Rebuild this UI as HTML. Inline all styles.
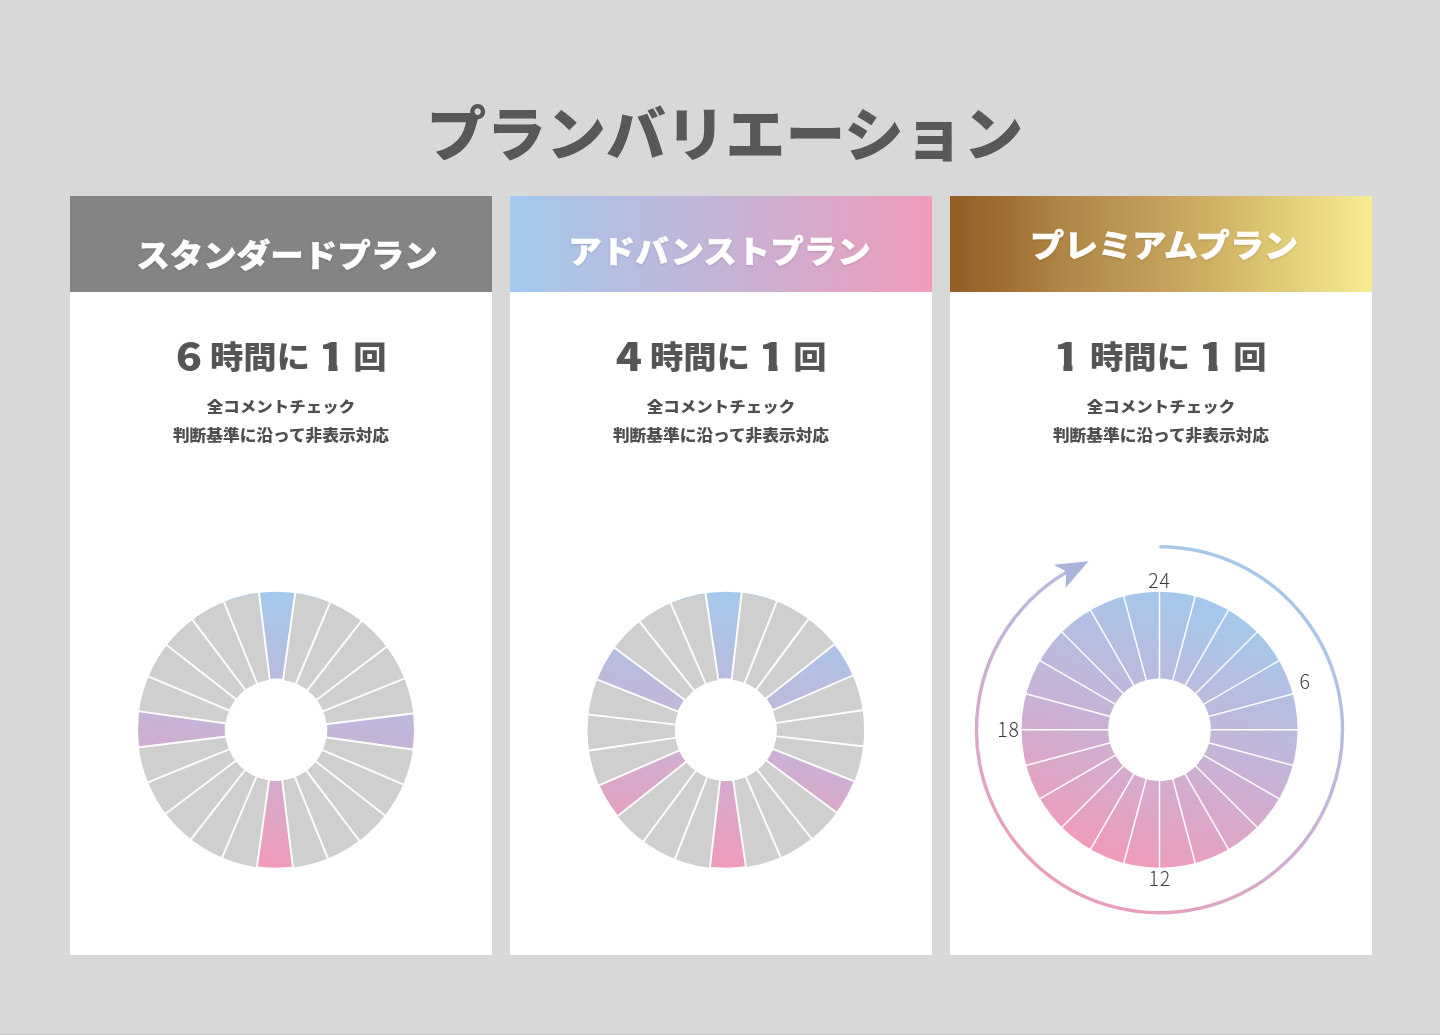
<!DOCTYPE html>
<html lang="ja">
<head>
<meta charset="utf-8">
<title>プランバリエーション</title>
<style>
html,body{margin:0;padding:0;}
body{width:1440px;height:1035px;background:#d8d8d8;position:relative;overflow:hidden;font-family:"Liberation Sans","Noto Sans CJK JP",sans-serif;color:#555;}
.title{position:absolute;left:5px;width:1440px;top:85.5px;text-align:center;font-size:59.8px;font-weight:900;color:#585858;line-height:88px;letter-spacing:0px;white-space:nowrap;font-family:"Noto Sans CJK JP",sans-serif;transform:scaleY(.985);}
.card{position:absolute;top:196px;width:422px;height:759px;background:#fff;}
.c1{left:70px}.c2{left:510px}.c3{left:950px}
.hd{position:absolute;left:0;top:0;width:422px;height:96px;}
.c1 .hd{background:#848484}
.c2 .hd{background:linear-gradient(90deg,#a3c9ec 0%,#c5b4d7 50%,#f09bbb 100%)}
.c3 .hd{background:linear-gradient(90deg,#945e26 0%,#9e6e32 12.5%,#ad8444 25%,#b8924f 37.5%,#c4a05a 50%,#d0b264 62.5%,#dcc672 75%,#ead982 87.5%,#f8ec92 100%)}
.hd span{position:absolute;left:0;width:422px;text-align:center;font-family:"Noto Sans CJK JP",sans-serif;font-weight:900;font-size:33.5px;line-height:40px;color:#fff;white-space:nowrap;text-shadow:0 1px 3px rgba(0,0,0,.16);transform:scaleY(.935);-webkit-text-stroke:.5px #fff;}
.c1 .hd span{top:37.6px;left:6px}
.c2 .hd span{top:33.7px;left:-1.5px}
.c3 .hd span{top:27.1px;left:3px;font-size:34.1px}
.freq{position:absolute;left:0;width:422px;top:138px;height:44px;font-family:"Liberation Sans","Noto Sans CJK JP",sans-serif;font-weight:900;font-size:33.3px;line-height:44px;color:#555;white-space:nowrap;}
.freq span{position:absolute;top:1.8px;display:block;text-align:center;transform:scaleY(.915);}
.freq .d{font-family:"Noto Sans CJK JP",sans-serif;font-weight:900;font-size:38.6px;width:40px;transform:scaleX(1.12);top:-2px}
.freq .d1{left:98.5px}
.freq .k{left:139px;width:102px}
.freq .d2{left:242.3px}
.freq .one{clip-path:polygon(0 0,40px 0,40px 31px,24.9px 31px,24.9px 44px,16.8px 44px,16.8px 31px,0 31px);}
.c3 .freq .d1{left:97px}
.freq .e{left:283px;width:34px}
.sub{position:absolute;left:0;width:422px;text-align:center;font-family:"Noto Sans CJK JP",sans-serif;font-weight:900;font-size:16.5px;line-height:24px;color:#4f4f4f;white-space:nowrap;transform:scaleY(.92);}
.s1{top:198px}.s2{top:227.3px;font-size:16.7px}
.charts{position:absolute;left:0;top:0;}
.num{font-family:"Noto Sans CJK JP","Liberation Sans",sans-serif;font-size:19.5px;fill:#3c3c3c;font-weight:300;letter-spacing:.8px;}
.foot{position:absolute;left:0;top:1034px;width:1440px;height:1px;background:#c2c2c2}
</style>
</head>
<body>
<div class="title">プランバリエーション</div>
<div class="card c1"><div class="hd"><span>スタンダードプラン</span></div>
<div class="freq"><span class="d d1">6</span><span class="k">時間に</span><span class="d d2 one">1</span><span class="e">回</span></div>
<div class="sub s1">全コメントチェック</div><div class="sub s2">判断基準に沿って非表示対応</div></div>
<div class="card c2"><div class="hd"><span>アドバンストプラン</span></div>
<div class="freq"><span class="d d1">4</span><span class="k">時間に</span><span class="d d2 one">1</span><span class="e">回</span></div>
<div class="sub s1">全コメントチェック</div><div class="sub s2">判断基準に沿って非表示対応</div></div>
<div class="card c3"><div class="hd"><span>プレミアムプラン</span></div>
<div class="freq"><span class="d d1 one">1</span><span class="k">時間に</span><span class="d d2 one">1</span><span class="e">回</span></div>
<div class="sub s1">全コメントチェック</div><div class="sub s2">判断基準に沿って非表示対応</div></div>
<svg class="charts" width="1440" height="1035" viewBox="0 0 1440 1035">
<defs>
<linearGradient id="g1" gradientUnits="userSpaceOnUse" x1="297.6" y1="593.4" x2="254.4" y2="866.0"><stop offset="0" stop-color="#a3c9ec"/><stop offset="0.5" stop-color="#c5b4d7"/><stop offset="1" stop-color="#f09bbb"/></linearGradient>
<linearGradient id="g2" gradientUnits="userSpaceOnUse" x1="747.4" y1="593.4" x2="704.2" y2="866.0"><stop offset="0" stop-color="#a3c9ec"/><stop offset="0.5" stop-color="#c5b4d7"/><stop offset="1" stop-color="#f09bbb"/></linearGradient>
<linearGradient id="g3" gradientUnits="userSpaceOnUse" x1="1206.7" y1="600.0" x2="1112.3" y2="859.4"><stop offset="0" stop-color="#a3c9ec"/><stop offset="0.5" stop-color="#c5b4d7"/><stop offset="1" stop-color="#f09bbb"/></linearGradient>
<linearGradient id="ga" gradientUnits="userSpaceOnUse" x1="1251.5" y1="569.7" x2="1067.5" y2="889.7"><stop offset="0" stop-color="#a5c8ea"/><stop offset="0.5" stop-color="#c6b2d4"/><stop offset="1" stop-color="#eb9ebc"/></linearGradient>
</defs>
<path d="M138 729.7A138 138 0 1 1 414 729.7A138 138 0 1 1 138 729.7ZM224.7 729.7A51.3 51.3 0 1 0 327.3 729.7A51.3 51.3 0 1 0 224.7 729.7Z" fill="url(#g1)" fill-rule="evenodd"/>
<g transform="translate(0 0.7) rotate(0.45 276 729.7)">
<path d="M294.04 592.68A138.2 138.2 0 0 1 413.02 711.66L326.56 723.04A51.0 51.0 0 0 0 282.66 679.14ZM413.02 747.74A138.2 138.2 0 0 1 294.04 866.72L282.66 780.26A51.0 51.0 0 0 0 326.56 736.36ZM257.96 866.72A138.2 138.2 0 0 1 138.98 747.74L225.44 736.36A51.0 51.0 0 0 0 269.34 780.26ZM138.98 711.66A138.2 138.2 0 0 1 257.96 592.68L269.34 679.14A51.0 51.0 0 0 0 225.44 723.04Z" fill="#cfcfcf"/>
<path d="M269.50 680.33L257.79 591.39M282.50 680.33L294.21 591.39M295.06 683.69L329.38 600.82M306.32 690.19L360.92 619.03M315.51 699.38L386.67 644.78M322.01 710.64L404.88 676.32M325.37 723.20L414.31 711.49M325.37 736.20L414.31 747.91M322.01 748.76L404.88 783.08M315.51 760.02L386.67 814.62M306.32 769.21L360.92 840.37M295.06 775.71L329.38 858.58M282.50 779.07L294.21 868.01M269.50 779.07L257.79 868.01M256.94 775.71L222.62 858.58M245.68 769.21L191.08 840.37M236.49 760.02L165.33 814.62M229.99 748.76L147.12 783.08M226.63 736.20L137.69 747.91M226.63 723.20L137.69 711.49M229.99 710.64L147.12 676.32M236.49 699.38L165.33 644.78M245.68 690.19L191.08 619.03M256.94 683.69L222.62 600.82" stroke="#fff" stroke-width="1.9" fill="none"/>
</g>
<path d="M587.8 729.7A138 138 0 1 1 863.8 729.7A138 138 0 1 1 587.8 729.7ZM674.5 729.7A51.3 51.3 0 1 0 777.0999999999999 729.7A51.3 51.3 0 1 0 674.5 729.7Z" fill="url(#g2)" fill-rule="evenodd"/>
<g transform="translate(0 0.7) rotate(-0.9 725.8 729.7)">
<path d="M743.84 592.68A138.2 138.2 0 0 1 835.44 645.57L766.26 698.65A51.0 51.0 0 0 0 732.46 679.14ZM853.48 676.81A138.2 138.2 0 0 1 853.48 782.59L772.92 749.22A51.0 51.0 0 0 0 772.92 710.18ZM835.44 813.83A138.2 138.2 0 0 1 743.84 866.72L732.46 780.26A51.0 51.0 0 0 0 766.26 760.75ZM707.76 866.72A138.2 138.2 0 0 1 616.16 813.83L685.34 760.75A51.0 51.0 0 0 0 719.14 780.26ZM598.12 782.59A138.2 138.2 0 0 1 598.12 676.81L678.68 710.18A51.0 51.0 0 0 0 678.68 749.22ZM616.16 645.57A138.2 138.2 0 0 1 707.76 592.68L719.14 679.14A51.0 51.0 0 0 0 685.34 698.65Z" fill="#cfcfcf"/>
<path d="M719.30 680.33L707.59 591.39M732.30 680.33L744.01 591.39M744.86 683.69L779.18 600.82M756.12 690.19L810.72 619.03M765.31 699.38L836.47 644.78M771.81 710.64L854.68 676.32M775.17 723.20L864.11 711.49M775.17 736.20L864.11 747.91M771.81 748.76L854.68 783.08M765.31 760.02L836.47 814.62M756.12 769.21L810.72 840.37M744.86 775.71L779.18 858.58M732.30 779.07L744.01 868.01M719.30 779.07L707.59 868.01M706.74 775.71L672.42 858.58M695.48 769.21L640.88 840.37M686.29 760.02L615.13 814.62M679.79 748.76L596.92 783.08M676.43 736.20L587.49 747.91M676.43 723.20L587.49 711.49M679.79 710.64L596.92 676.32M686.29 699.38L615.13 644.78M695.48 690.19L640.88 619.03M706.74 683.69L672.42 600.82" stroke="#fff" stroke-width="1.9" fill="none"/>
</g>
<path d="M1021.5 729.7A138 138 0 1 1 1297.5 729.7A138 138 0 1 1 1021.5 729.7ZM1108.2 729.7A51.3 51.3 0 1 0 1210.8 729.7A51.3 51.3 0 1 0 1108.2 729.7Z" fill="url(#g3)" fill-rule="evenodd"/>
<g transform="translate(0 0) rotate(0.0 1159.5 729.7)">
<path d="M1159.50 679.90L1159.50 590.20M1172.39 681.60L1195.61 594.95M1184.40 686.57L1229.25 608.89M1194.71 694.49L1258.14 631.06M1202.63 704.80L1280.31 659.95M1207.60 716.81L1294.25 693.59M1209.30 729.70L1299.00 729.70M1207.60 742.59L1294.25 765.81M1202.63 754.60L1280.31 799.45M1194.71 764.91L1258.14 828.34M1184.40 772.83L1229.25 850.51M1172.39 777.80L1195.61 864.45M1159.50 779.50L1159.50 869.20M1146.61 777.80L1123.39 864.45M1134.60 772.83L1089.75 850.51M1124.29 764.91L1060.86 828.34M1116.37 754.60L1038.69 799.45M1111.40 742.59L1024.75 765.81M1109.70 729.70L1020.00 729.70M1111.40 716.81L1024.75 693.59M1116.37 704.80L1038.69 659.95M1124.29 694.49L1060.86 631.06M1134.60 686.57L1089.75 608.89M1146.61 681.60L1123.39 594.95" stroke="#fff" stroke-width="1.5" fill="none"/>
</g>
<path d="M1159.50 546.70A183 183 0 1 1 1076.42 566.65" fill="none" stroke="url(#ga)" stroke-width="3.4"/>
<path d="M1053.6 564.7L1088.5 561.2L1065.5 588.1L1066.3 571.6Z" fill="#aab4db"/>
<text x="1159.6" y="588.3" text-anchor="middle" class="num">24</text>
<text x="1159.7" y="886.3" text-anchor="middle" class="num">12</text>
<text x="1008.6" y="736.8" text-anchor="middle" class="num">18</text>
<text x="1305" y="688.9" text-anchor="middle" class="num">6</text>
</svg>
<div class="foot"></div>
</body>
</html>
